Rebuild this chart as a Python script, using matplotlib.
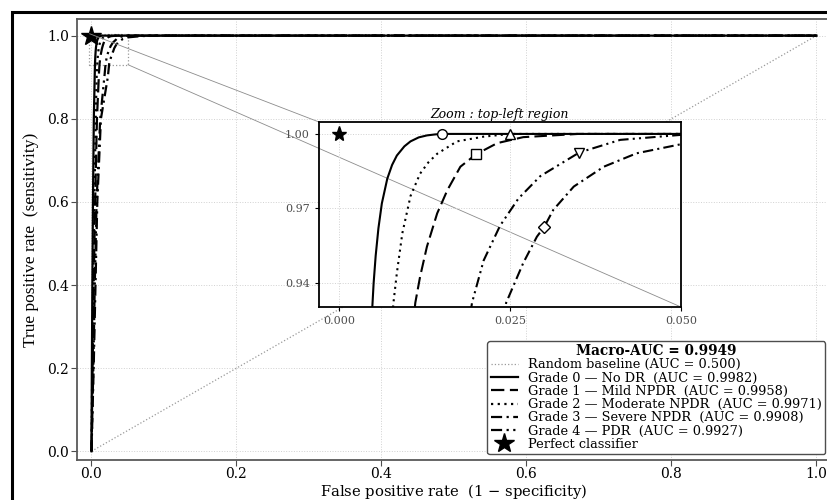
import matplotlib
matplotlib.use("Agg")
import matplotlib.pyplot as plt
from matplotlib.patches import Rectangle
from mpl_toolkits.axes_grid1.inset_locator import mark_inset

plt.rcParams['font.family'] = ['DejaVu Serif']

# ---- data ----
grade_labels = ["Grade 0 — No DR  (AUC = 0.9982)",
                "Grade 1 — Mild NPDR  (AUC = 0.9958)",
                "Grade 2 — Moderate NPDR  (AUC = 0.9971)",
                "Grade 3 — Severe NPDR  (AUC = 0.9908)",
                "Grade 4 — PDR  (AUC = 0.9927)"]

g0_fpr = [0, 0.0005, 0.0012, 0.0020, 0.0032, 0.0045, 0.0048, 0.0050, 0.0053, 0.0057, 0.0062, 0.0070, 0.0077, 0.0084, 0.0095, 0.0104, 0.0116, 0.0128, 0.0140, 0.0150, 0.0200, 1.0]
g0_tpr = [0, 0.20, 0.40, 0.60, 0.80, 0.91, 0.930, 0.940, 0.951, 0.962, 0.972, 0.982, 0.9875, 0.9913, 0.9950, 0.9970, 0.9986, 0.9994, 0.9998, 1.0, 1.0, 1.0]

g1_fpr = [0, 0.0015, 0.0030, 0.0050, 0.0075, 0.0103, 0.0111, 0.0118, 0.0128, 0.0143, 0.0158, 0.0177, 0.0200, 0.0231, 0.0269, 0.0350, 1.0]
g1_tpr = [0, 0.20, 0.40, 0.60, 0.80, 0.91, 0.932, 0.9425, 0.9546, 0.968, 0.9774, 0.9868, 0.9918, 0.9963, 0.9987, 1.0, 1.0]

g2_fpr = [0, 0.0010, 0.0025, 0.0040, 0.0058, 0.0072, 0.0079, 0.0084, 0.0092, 0.0104, 0.0118, 0.0130, 0.0143, 0.0172, 0.0211, 0.0250, 0.0300, 1.0]
g2_tpr = [0, 0.20, 0.40, 0.60, 0.80, 0.91, 0.932, 0.944, 0.960, 0.975, 0.984, 0.9885, 0.992, 0.997, 0.9989, 1.0, 1.0, 1.0]

g3_fpr = [0, 0.0030, 0.0055, 0.0080, 0.0130, 0.0225, 0.0244, 0.0269, 0.0289, 0.0300, 0.0313, 0.0343, 0.0387, 0.0435, 0.0499, 0.0700, 0.1000, 1.0]
g3_tpr = [0, 0.20, 0.40, 0.60, 0.80, 0.90, 0.932, 0.948, 0.9586, 0.9627, 0.9694, 0.9788, 0.9868, 0.9922, 0.9958, 0.9990, 1.0, 1.0]

g4_fpr = [0, 0.0025, 0.0045, 0.0070, 0.0120, 0.0180, 0.0194, 0.0211, 0.0235, 0.0262, 0.0294, 0.0351, 0.0411, 0.0499, 0.0650, 1.0]
g4_tpr = [0, 0.20, 0.40, 0.60, 0.80, 0.905, 0.932, 0.949, 0.963, 0.974, 0.983, 0.9925, 0.9976, 0.9996, 1.0, 1.0]

op_fpr = [0.015, 0.020, 0.025, 0.030, 0.035]
op_tpr = [1.0, 0.9918, 1.0, 0.9627, 0.9925]

baseline_x = [0, 1]
baseline_y = [0, 1]
macro_auc = 0.9949

curves = [(g0_fpr, g0_tpr), (g1_fpr, g1_tpr), (g2_fpr, g2_tpr), (g3_fpr, g3_tpr), (g4_fpr, g4_tpr)]
styles = ['-', (0, (6, 2.5)), (0, (1, 2)), (0, (5, 2, 1, 2)), (0, (5, 2, 1, 2, 1, 2))]
op_markers = ['o', 's', '^', 'D', 'v']
op_sizes = [7, 7, 7, 6, 7]

fig = plt.figure(figsize=(8.28, 5.0), dpi=100)
ax = fig.add_axes([77/828, 40/500, (831-77)/828, (460-19)/500])

ax.plot(baseline_x, baseline_y, ls=':', color='0.6', lw=0.9, label='Random baseline (AUC = 0.500)')
for (fx, ty), ls, lab in zip(curves, styles, grade_labels):
    ax.plot(fx, ty, ls=ls, color='black', lw=1.6, label=lab)
ax.plot([0], [1], marker='*', ms=15, color='black', ls='none', label='Perfect classifier', zorder=6)

ax.set_xlim(-0.02, 1.02)
ax.set_ylim(-0.021, 1.04)
ax.set_xticks([0.0, 0.2, 0.4, 0.6, 0.8, 1.0])
ax.set_yticks([0.0, 0.2, 0.4, 0.6, 0.8, 1.0])
ax.grid(True, ls=':', color='0.82', lw=0.7)
ax.tick_params(labelsize=10, length=4, pad=1.5, color='0.3')
ax.tick_params(axis='x', pad=1)
for s in ax.spines.values():
    s.set_color('0.35')
    s.set_linewidth(1.3)
ax.set_xlabel('False positive rate  (1 $-$ specificity)', fontsize=10.6, labelpad=0.5)
ax.set_ylabel('True positive rate  (sensitivity)', fontsize=12.5, family='Liberation Serif', labelpad=6)

leg = ax.legend(loc='lower right', fontsize=9.3, title='Macro-AUC = %.4f' % macro_auc,
                title_fontproperties={'weight': 'bold', 'size': 9.8},
                labelspacing=0.02, borderpad=0.25, handlelength=2.1,
                framealpha=1, edgecolor='0.3', borderaxespad=0.45)
leg.get_frame().set_linewidth(1.0)

# ---- inset ----
axins = fig.add_axes([319/828, (500-307)/500, (681-319)/828, (307-122)/500])
axins.set_zorder(5)
for (fx, ty), ls in zip(curves, styles):
    axins.plot(fx, ty, ls=ls, color='black', lw=1.5)
for x, y, m, s in zip(op_fpr, op_tpr, op_markers, op_sizes):
    axins.plot([x], [y], marker=m, ms=s, mfc='white', mec='black', mew=1.0, ls='none', zorder=5)
axins.plot([0], [1], marker='*', ms=11, color='black', ls='none')
axins.set_xlim(-0.003, 0.050)
axins.set_ylim(0.9303, 1.0048)
axins.set_xticks([0.0, 0.025, 0.05])
axins.set_xticklabels(['0.000', '0.025', '0.050'])
axins.set_yticks([0.94, 0.97, 1.00])
axins.set_yticklabels(['0.94', '0.97', '1.00'])
axins.tick_params(labelsize=8, length=3, labelcolor='0.3')
axins.grid(True, ls=':', color='0.82', lw=0.7)
for s in axins.spines.values():
    s.set_color('black')
    s.set_linewidth(1.3)
axins.set_title('Zoom : top-left region', fontsize=9, style='italic', pad=3)

pp, p1, p2 = mark_inset(ax, axins, loc1=2, loc2=4, fc='none', ec='0.55', lw=0.6)
pp.set_linestyle(':')
pp.set_edgecolor('0.6')
pp.set_linewidth(0.9)

# outer frame
fig.patches.append(Rectangle((12/828, -0.2), 1.2, 1.2 - 12/500, transform=fig.transFigure,
                             fill=False, ec='black', lw=2.2))

fig.savefig('out.png', dpi=100)
